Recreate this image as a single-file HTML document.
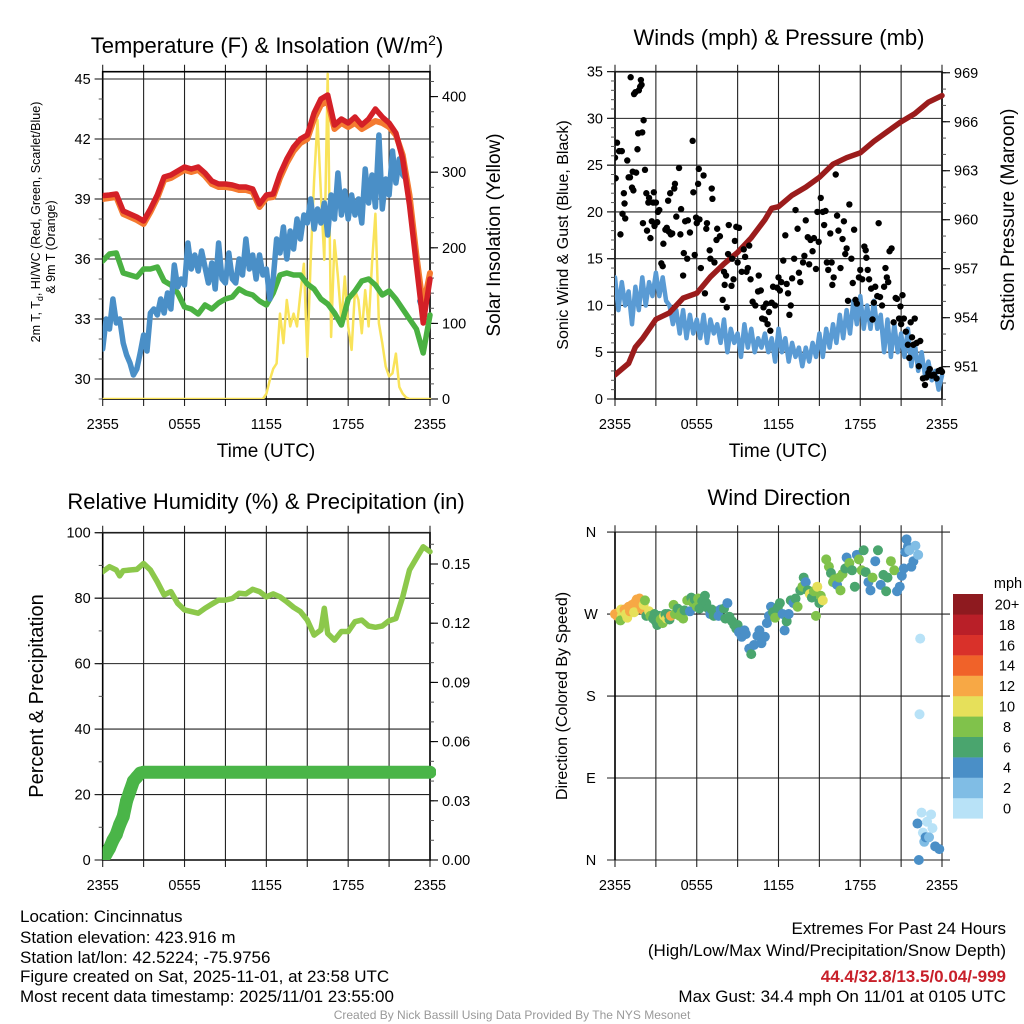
<!DOCTYPE html>
<html><head><meta charset="utf-8"><style>
html,body{margin:0;padding:0;background:#fff;}
svg{display:block;font-family:"Liberation Sans",sans-serif;}
</style></head><body>
<svg id="root" width="1024" height="1024" viewBox="0 0 1024 1024" xmlns="http://www.w3.org/2000/svg">
<rect x="0" y="0" width="1024" height="1024" fill="#fff"/>
<text x="267" y="53" font-size="22" text-anchor="middle">Temperature (F) &amp; Insolation (W/m<tspan dy="-8" font-size="14">2</tspan><tspan dy="8">)</tspan></text>
<text x="779" y="45" font-size="22" text-anchor="middle">Winds (mph) &amp; Pressure (mb)</text>
<text x="266" y="509" font-size="22" text-anchor="middle">Relative Humidity (%) &amp; Precipitation (in)</text>
<text x="779" y="505" font-size="22" text-anchor="middle">Wind Direction</text>
<text transform="translate(40,222) rotate(-90)" font-size="12.5" text-anchor="middle">2m T, T<tspan font-size="9" dy="3">d</tspan><tspan dy="-3">, HI/WC (Red, Green, Scarlet/Blue)</tspan></text>
<text transform="translate(55,247) rotate(-90)" font-size="12.5" text-anchor="middle">&amp; 9m T (Orange)</text>
<text transform="translate(500,235) rotate(-90)" font-size="19" text-anchor="middle">Solar Insolation (Yellow)</text>
<text transform="translate(568,235) rotate(-90)" font-size="16" text-anchor="middle">Sonic Wind &amp; Gust (Blue, Black)</text>
<text transform="translate(1014,220) rotate(-90)" font-size="19" text-anchor="middle">Station Pressure (Maroon)</text>
<text transform="translate(43,696) rotate(-90)" font-size="20" text-anchor="middle">Percent &amp; Precipitation</text>
<text transform="translate(567,696) rotate(-90)" font-size="16" text-anchor="middle">Direction (Colored By Speed)</text>
<text x="266" y="457" font-size="19" text-anchor="middle">Time (UTC)</text>
<text x="778" y="457" font-size="19" text-anchor="middle">Time (UTC)</text>
<g font-size="17">
<text x="20" y="922">Location: Cincinnatus</text>
<text x="20" y="943">Station elevation: 423.916 m</text>
<text x="20" y="963">Station lat/lon: 42.5224; -75.9756</text>
<text x="20" y="982">Figure created on Sat, 2025-11-01, at 23:58 UTC</text>
<text x="20" y="1002">Most recent data timestamp: 2025/11/01 23:55:00</text>
</g>
<g font-size="17" text-anchor="end">
<text x="1006" y="934">Extremes For Past 24 Hours</text>
<text x="1006" y="956">(High/Low/Max Wind/Precipitation/Snow Depth)</text>
<text x="1006" y="982" fill="#c8202a" font-weight="bold">44.4/32.8/13.5/0.04/-999</text>
<text x="1006" y="1002">Max Gust: 34.4 mph On 11/01 at 0105 UTC</text>
</g>
<text x="512" y="1019" font-size="12" fill="#999" text-anchor="middle">Created By Nick Bassill Using Data Provided By The NYS Mesonet</text>
</svg>
<script>
const NS='http://www.w3.org/2000/svg';
const root=document.getElementById('root');
function mk(tag,at,parent){const e=document.createElementNS(NS,tag);for(const k in at)e.setAttribute(k,at[k]);(parent||root).appendChild(e);return e;}

// ---------------- DATA ----------------
const halfHours=[0,0.5,1,1.5,2,2.5,3,3.5,4,4.5,5,5.5,6,6.5,7,7.5,8,8.5,9,9.5,10,10.5,11,11.5,12,12.5,13,13.5,14,14.5,15,15.5,16,16.5,17,17.5,18,18.5,19,19.5,20,20.5,21,21.5,22,22.5,23,23.5,24];
const tempRed=[39.17,39.2,39.25,38.4,38.25,38.1,37.9,38.5,39.2,40.1,40.2,40.4,40.6,40.5,40.6,40.3,39.9,39.75,39.75,39.7,39.6,39.6,39.5,38.75,39.2,39.25,40.25,41.0,41.6,42.0,42.2,43.3,44.0,44.2,42.7,43.0,42.8,43.1,42.7,43.0,43.5,43.1,42.8,42.3,41.0,38.7,35.7,32.8,35.0];
const temp9m=[39.0,39.05,39.1,38.25,38.1,37.95,37.75,38.35,39.05,39.95,40.05,40.25,40.45,40.35,40.45,40.15,39.75,39.6,39.6,39.55,39.45,39.45,39.35,38.6,39.05,39.1,40.05,40.8,41.4,41.8,42.0,43.0,43.7,43.9,42.5,42.8,42.6,42.8,42.5,42.7,42.9,42.8,42.6,42.2,41.2,39.2,36.2,33.6,35.3];
const dewGreen=[35.9,36.25,36.3,35.3,35.2,35.1,35.5,35.5,35.6,34.9,34.7,34.3,33.6,33.5,33.25,33.7,33.5,33.8,34.0,34.1,34.5,34.3,34.2,33.9,33.7,34.3,35.2,35.3,35.2,35.2,34.75,34.5,34.0,33.75,33.3,32.7,34.0,34.4,34.9,35.0,34.7,34.2,34.4,34.0,33.5,33.0,32.5,31.3,33.2];
const quarterHours=[];for(let i=0;i<=96;i++)quarterHours.push(i/4);
const chillBlue=[31.5,33.0,32.5,34.0,32.8,33.0,31.8,31.2,30.8,30.2,30.5,31.3,32.2,31.4,33.3,33.5,33.2,34.0,33.3,34.3,33.5,35.7,34.6,35.0,34.7,36.8,35.5,36.2,35.4,36.4,35.6,34.8,35.8,34.5,36.8,35.0,34.8,36.3,35.0,34.8,36.0,35.2,37.0,35.5,36.2,35.0,36.2,35.2,35.5,34.0,35.0,37.0,36.3,37.6,36.0,37.4,36.5,38.0,37.0,38.2,37.8,39.0,37.5,38.5,37.8,38.8,37.2,39.2,38.0,40.3,38.2,39.4,38.0,39.2,38.2,39.0,37.8,40.5,38.8,40.2,38.6,42.2,38.5,40.0,39.2,41.4,39.8,41.0,40.2,40.0,null,null,null,33.9,33.4,null,null];
const solar=[0,0,0,0,0,0,0,0,0,0,0,0,0,0,0,0,0,0,0,0,0,0,0,0,0,0,0,0,0,0,0,0,0,0,0,0,0,0,0,0,0,0,0,0,0,0,0,0,7,25,40,47,113,74,131,96,113,96,140,179,56,184,289,369,272,184,430,82,210,162,103,162,96,65,144,131,87,144,96,179,245,100,74,43,30,34,60,16,7,2,0,0,0,0,0,0,0];
const pressHours=[0,1,1.5,2,3,4,5,6,7,8,9,10,11,11.5,12,13,14,15,16,17,18,19,20,21,22,23,24];
const pressure=[950.5,951.2,952.2,952.7,953.9,954.3,955.2,955.5,956.5,957.3,958.0,958.9,960.0,960.7,960.8,961.5,962.0,962.6,963.4,963.8,964.1,964.8,965.4,966.0,966.5,967.2,967.6];
const windSpeed=[13,9.5,12.5,10,11.5,8,12,9.5,13,10,12.5,11,13.5,11,13,10.5,10,8,9.5,7,9.5,6.5,9,7,8.5,6.5,9,6,8.5,7,8,6,8.5,5,7.5,6,7,4.5,8,5.5,7.5,5,6.5,5.5,7,5,6.5,4,7.5,5,6.5,4,6,4.5,5.5,3.5,5.5,4,6,4.5,7,4.5,7.5,5.5,8,6,9,6.5,9.5,7,10.5,8,11,7.5,10,7.5,10.5,7.5,9,5,8.5,4.5,8,5,7,4.5,7.5,3.5,6,3,5,2.5,4,2,3,1,2.5];
const gustHours=[0,0.05,0.15,0.3,0.5,0.4,0.55,0.65,0.7,0.75,0.9,1.0,1.1,1.15,1.25,1.3,1.35,1.4,1.5,1.55,1.65,1.7,1.75,1.85,1.9,1.95,2.0,2.05,2.1,2.2,2.3,2.35,2.45,2.5,2.6,2.7,2.8,2.85,2.9,3.0,3.1,3.15,3.25,3.4,3.5,3.55,3.7,3.8,3.9,3.95,4.05,4.1,4.2,4.35,4.4,4.5,4.7,4.8,4.85,5.0,5.05,5.15,5.3,5.35,5.5,6.15,5.7,5.75,5.85,5.95,6.0,6.1,6.2,6.3,6.5,6.6,6.7,6.75,6.95,7.0,7.1,7.15,7.3,7.45,7.5,7.7,7.9,8.0,8.05,8.15,8.2,8.3,8.35,8.55,8.6,8.7,8.8,8.9,9.0,9.1,9.3,9.45,9.55,9.65,9.75,9.85,9.95,10.1,10.3,10.5,10.55,10.7,10.8,10.9,11.0,11.1,11.2,11.3,11.4,11.5,11.6,11.75,11.9,12.0,12.1,12.2,12.35,12.5,12.6,12.7,12.8,12.9,13.0,13.15,13.25,13.4,13.5,13.6,13.8,13.9,14.0,14.15,14.25,14.35,14.5,14.6,14.75,14.85,14.95,15.1,15.25,15.35,15.45,15.55,15.65,15.8,15.9,15.95,16.05,16.2,16.3,16.4,16.55,16.7,16.8,16.9,17.0,17.1,17.2,17.35,17.45,17.55,17.65,17.75,17.9,18.0,18.15,18.3,18.4,18.45,18.55,18.65,18.8,18.9,19.0,19.1,19.25,19.35,19.45,19.6,19.75,19.85,19.95,20.05,20.15,20.3,20.45,20.6,20.7,20.85,20.95,21.0,21.1,21.2,21.35,21.5,21.6,21.7,21.8,21.9,22.0,22.15,22.3,22.4,22.6,22.75,22.85,23.0,23.1,23.25,23.4,23.6,23.75,23.9,24.0];
const gustSpeed=[25.8,23.6,27.4,26.5,26.5,17.6,19.8,22,20.9,19.3,25.5,23.7,23.7,34.4,22.6,24.3,22.3,32.6,32.8,24.2,26.7,28.4,33,33.4,34.1,33.6,28.5,18.8,29.8,24.5,22,18,21,21.5,17.2,19,21,22.1,18.5,21,18.9,20,20.2,14.5,14.2,16.6,18.1,18.3,21.2,17.9,22,17.6,17.7,22.5,23,19.5,24.7,17.6,20.3,13.2,15.6,19,15,19.1,17.8,24.6,27.6,22.1,15.4,19.4,18.8,23,19.2,14,23.9,11.3,18.2,18.8,15.9,15,22.5,21.4,14.6,17,18.2,17.4,10.6,13.6,12.2,13.2,9.8,15.5,18.6,12.1,15,12.8,16.9,18.4,14.6,18.3,13.6,16,15.2,13.6,14,16.4,12.8,10.4,10,11.5,13.2,11.6,8.6,9.8,8.5,10.2,8,9.3,7.3,10.3,12,10,11.9,13,11.6,12.5,14.8,17.5,12.3,11.3,9,10,12.9,15,20.2,18.2,13.5,12.5,14.6,15.3,19.1,17.3,14.4,17,15.8,17.2,13.9,20,16.8,21.5,20,18.6,20.1,14.6,13.8,17.7,14.6,12.2,13,24,19.6,18,14,17.1,19,15.5,16.1,10.5,20.8,15,12.4,18.1,10.6,10.2,13,13.8,12.8,16.3,15.9,15.1,13.8,12.8,11.8,8.5,10.3,12,11,18.8,10.9,10,12,14,13,12.5,15.8,16.1,8.2,10.8,10.7,8.6,9.9,8,11.1,8.6,7.2,5.8,4.4,8.2,6.6,5.8,8.6,6,3.5,6.2,2.2,1.5,2.3,2.8,3.2,2.5,2.6,2.2,3,3.1,2.9];
const rhHours=[0,0.5,1,1.25,1.5,2,2.5,3,3.5,4,4.5,5,5.5,6,6.5,7,7.5,8,8.5,9,9.5,10,10.5,11,11.5,12,12.5,13,13.5,14,14.5,15,15.5,16,16.25,16.5,17,17.5,18,18.5,19,19.5,20,20.5,21,21.5,22,22.5,23,23.5,24];
const rhValues=[88.1,89.6,88.6,86.8,88.4,88.6,88.8,90.6,88.6,85.0,81.0,82.0,78.4,76.4,75.9,75.4,76.9,78.2,79.4,79.4,79.9,81.5,81.3,82.7,82.0,80.4,81.3,80.4,78.9,77.2,75.9,73.3,68.7,70.3,76.9,69.2,67.2,69.8,69.8,72.8,73.3,71.5,71.1,71.5,73.1,73.8,80.4,88.6,92.2,95.7,94.2];
const precipHours=[0,0.25,0.5,0.75,1.0,1.25,1.5,1.75,2.0,2.25,2.5,2.75,3.0,24];
const precipValues=[0,0.003,0.006,0.010,0.013,0.018,0.022,0.030,0.035,0.040,0.042,0.044,0.0445,0.0445];
const dirHours=[0,0.15,0.3,0.45,0.5,0.4,0.7,0.8,0.9,1.0,1.1,1.25,1.4,1.5,1.6,1.7,1.8,1.9,2.0,2.1,2.2,2.3,2.5,2.6,2.8,2.9,3.0,3.1,3.25,3.35,3.5,3.6,3.7,3.8,3.9,4.0,4.1,4.3,4.4,4.6,4.75,4.9,5.0,5.1,5.3,5.5,5.6,5.7,5.85,6.0,6.1,6.2,6.4,6.6,6.7,6.85,7.0,7.1,7.25,7.5,7.6,7.75,8.0,8.1,8.25,8.4,8.6,8.75,8.9,9.0,9.1,9.3,9.5,9.6,9.85,10.0,10.2,10.45,10.6,10.75,11.0,11.15,11.3,11.45,11.6,11.75,11.95,12.1,12.3,12.45,12.6,12.75,12.9,13.1,13.25,13.4,13.6,13.75,13.85,14.0,14.15,14.3,14.45,14.6,14.75,14.85,15.0,15.1,15.25,15.5,15.7,15.85,16.0,16.1,16.3,16.45,16.55,16.7,16.9,17.0,17.2,17.4,17.6,17.75,17.9,18.1,18.25,18.4,18.6,18.75,18.9,19.1,19.3,19.5,19.7,19.9,20.0,20.25,20.5,20.7,20.9,21.05,21.2,21.3,21.4,21.5,21.6,21.75,21.9,22.05,22.25,22.4,22.35,22.3,22.2,22.5,22.6,22.7,22.8,22.9,23.05,23.2,23.3,23.5,23.8];
const dirDegrees=[270,268,272,275,268,263,275,270,266,278,273,280,272,283,286,282,287,279,275,280,285,268,273,268,265,270,262,258,268,264,260,268,270,265,270,264,268,280,270,276,268,272,265,274,285,273,288,283,286,278,287,276,284,290,282,276,270,275,268,273,268,275,276,265,282,267,262,258,254,258,250,245,252,248,232,226,236,246,252,238,245,260,268,278,272,266,277,282,270,252,262,270,285,282,287,278,296,300,310,305,296,292,288,295,268,300,282,290,285,330,322,315,305,308,302,310,296,314,320,332,326,318,300,335,330,318,340,316,305,296,310,328,340,302,313,295,310,328,318,295,300,312,320,338,352,344,340,322,328,345,335,243,160,0,40,52,30,20,25,42,25,50,35,15,12];
const dirSpeeds=[12,12,12,10,10,8,12,10,10,12,12,12,10,12,12,12,12,12,12,10,8,6,10,8,6,6,6,6,6,8,8,10,6,10,6,6,12,8,8,6,8,8,8,6,8,4,6,8,6,8,8,6,6,6,6,6,4,6,6,6,4,4,6,6,4,6,6,6,6,6,4,4,4,4,4,6,4,4,4,4,4,4,4,4,6,8,6,6,4,4,6,4,6,4,6,8,6,8,6,4,6,10,6,8,8,10,6,8,10,8,8,6,8,8,4,8,8,8,6,4,8,6,6,4,8,8,6,6,4,4,8,4,6,4,6,6,6,8,8,4,4,4,4,4,4,4,2,4,4,2,2,0,0,4,4,0,0,2,4,0,2,0,0,4,4];
const colorbarLabels=['0','2','4','6','8','10','12','14','16','18','20+'];
const colorbarColors=['#b8e2f7','#80bde5','#4a8fc7','#4aa56e','#80c24b','#e6e05a','#f7a845','#f06229','#d9312a','#b91f28','#8e1a1f'];
const timeTickLabels=['2355','0555','1155','1755','2355'];

// ---------------- AXES ----------------
function xs(p,t){return p.x0+(p.x1-p.x0)*t/24;}
const P1={x0:102.7,x1:430,top:71.7,bot:399,yl:v=>399-(v-29)*20,yr:v=>399-v*0.756};
const P2={x0:615,x1:942,top:71.7,bot:399,yl:v=>399-v*9.354,yr:v=>366.7-(v-951)*16.33};
const P3={x0:102.7,x1:430,top:532.7,bot:860,yl:v=>860-v*3.273,yr:v=>860-v*1973.3};
const P4={x0:615,x1:942,top:532.3,bot:860,yl:v=>860-v*0.911};

function frame(p,name,lab){
  const g=mk('g',{});
  
  
  for(let i=0;i<=8;i++){
    const x=xs(p,i*3);
    const v=mk('line',{x1:x,y1:p.top-7,x2:x,y2:p.bot+7,stroke:'#222','stroke-width':1.1},g);
    
    
  }
  for(let i=0;i<5;i++){
    const t=mk('text',{x:xs(p,i*6),y:lab,'font-size':14.5,'text-anchor':'middle'},g);
    t.textContent=timeTickLabels[i];
    
    
  }
  const b=mk('rect',{x:p.x0,y:p.top,width:p.x1-p.x0,height:p.bot-p.top,fill:'none',stroke:'#000','stroke-width':1.6},g);
  
  
  return g;
}
function yAxis(p,side,vals,minors,fn,fmt,grid,g){
  const ax=side==='l'?p.x0:p.x1, d=side==='l'?-1:1;
  minors.forEach(v=>{
    const y=fn(v);
    const m=mk('line',{x1:ax,y1:y,x2:ax+d*4,y2:y,stroke:'#555','stroke-width':1},g);
    
    
  });
  vals.forEach(v=>{
    const y=fn(v);
    const t=mk('line',{x1:ax,y1:y,x2:ax+d*8,y2:y,stroke:'#000','stroke-width':1.1},g);
    
    
    if(grid){
      const gl=mk('line',{x1:p.x0-8,y1:y,x2:p.x1,y2:y,stroke:'#222','stroke-width':1.1},g);
      
      
    }
    const tx=mk('text',{x:ax+d*12,y:y+5,'font-size':14.5,'text-anchor':side==='l'?'end':'start'},g);
    tx.textContent=fmt(v);
    
    
  });
}
function range(a,b,s){const r=[];for(let v=a;v<=b+1e-9;v+=s)r.push(+v.toFixed(4));return r;}
function path(p,xsArr,ys,fn,stroke,w,name,g){
  let d='',pen=false;
  for(let i=0;i<xsArr.length;i++){
    if(ys[i]===null){pen=false;continue;}
    d+=(pen?'L':'M')+xs(p,xsArr[i]).toFixed(1)+','+fn(ys[i]).toFixed(1);pen=true;
  }
  const e=mk('path',{d:d,fill:'none',stroke:stroke,'stroke-width':w,'stroke-linejoin':'round','stroke-linecap':'round'},g);
  
  
}
function clip(p,id){
  const c=mk('clipPath',{id:id});
  mk('rect',{x:p.x0,y:p.top-8,width:p.x1-p.x0+6,height:p.bot-p.top+8},c);
  const g=mk('g',{'clip-path':'url(#'+id+')'});
  return g;
}

// Panel 1
let g1=frame(P1,'temperature',429);
yAxis(P1,'l',range(30,45,3),range(29,45,1),P1.yl,v=>v,true,g1);
yAxis(P1,'r',range(0,400,100),range(0,420,20),P1.yr,v=>v,false,g1);
let s1=clip(P1,'c1');


path(P1,quarterHours,solar,P1.yr,'#f9e35a',2.5,'solar-line',s1);
path(P1,halfHours,dewGreen,P1.yl,'#4ab142',5.5,'dewpoint-line',s1);
path(P1,quarterHours,chillBlue,P1.yl,'#4a8fc7',5.5,'windchill-line',s1);
path(P1,halfHours,temp9m,P1.yl,'#f47a30',6,'temp-9m-line',s1);
path(P1,halfHours,tempRed,P1.yl,'#d42027',5.5,'temp-2m-line',s1);

// Panel 2
let g2=frame(P2,'wind',429);
yAxis(P2,'l',range(0,35,5),range(0,35,1),P2.yl,v=>v,true,g2);
yAxis(P2,'r',range(951,969,3),range(949,969,1),P2.yr,v=>v,false,g2);
let s2=clip(P2,'c2');


path(P2,quarterHours,windSpeed,P2.yl,'#5a9bd4',4.5,'wind-speed-line',s2);
path(P2,pressHours,pressure,P2.yr,'#9b1c1c',5.5,'pressure-line',s2);
for(let i=0;i<gustHours.length;i++){
  const c=mk('circle',{cx:xs(P2,gustHours[i]),cy:P2.yl(gustSpeed[i]),r:3.2,fill:'#000'},s2);
  
  
}

// Panel 3
let g3=frame(P3,'humidity',890);
yAxis(P3,'l',range(0,100,20),range(0,100,10),P3.yl,v=>v,true,g3);
yAxis(P3,'r',range(0,0.15,0.03),range(0,0.165,0.01),P3.yr,v=>v.toFixed(2),false,g3);
let s3=clip(P3,'c3');


path(P3,rhHours,rhValues,P3.yl,'#8cc84b',5.5,'rh-line',s3);
path(P3,precipHours,precipValues,P3.yr,'#4ab548',13,'precip-line',s3);
for(let i=0;i<13;i++){
  const c=mk('circle',{cx:xs(P3,precipHours[i]),cy:P3.yr(precipValues[i]),r:6.5,fill:'#4ab548'},s3);
  
  
}

// Panel 4
let g4=mk('g',{});


for(let i=0;i<=8;i++){
  const x=xs(P4,i*3);
  const v=mk('line',{x1:x,y1:P4.top-7,x2:x,y2:P4.bot+7,stroke:'#222','stroke-width':1.1},g4);
  
  
}
for(let i=0;i<5;i++){
  const t=mk('text',{x:xs(P4,i*6),y:890,'font-size':14.5,'text-anchor':'middle'},g4);
  t.textContent=timeTickLabels[i];
  
  
}
const dirLabels=['N','E','S','W','N'];
for(let i=0;i<5;i++){
  const y=P4.yl(i*90);
  const l=mk('line',{x1:607,y1:y,x2:950,y2:y,stroke:'#222','stroke-width':1.1},g4);
  
  
  const t=mk('text',{x:591,y:y+5,'font-size':14.5,'text-anchor':'middle'},g4);
  t.textContent=dirLabels[i];
  
  
}
const lax=mk('line',{x1:P4.x0,y1:P4.top,x2:P4.x0,y2:P4.bot,stroke:'#000','stroke-width':1.6},g4);


function spdColor(s){let i=Math.round(s/2);if(i>10)i=10;if(i<0)i=0;return colorbarColors[i];}
for(let i=0;i<dirHours.length;i++){
  const c=mk('circle',{cx:xs(P4,dirHours[i]),cy:P4.yl(dirDegrees[i]),r:5,fill:spdColor(dirSpeeds[i])},g4);
  
  
}
// colorbar
const cb=mk('g',{});


const cbt=mk('text',{x:1008,y:588,'font-size':14.5,'text-anchor':'middle'},cb);
cbt.textContent='mph';


for(let i=0;i<11;i++){
  const y=594+(10-i)*20.4;
  const r=mk('rect',{x:953,y:y,width:30,height:20.6,fill:colorbarColors[i]},cb);
  
  
  const t=mk('text',{x:1007,y:y+15.5,'font-size':14.5,'text-anchor':'middle'},cb);
  t.textContent=colorbarLabels[i];
  
  
}
</script>
</body></html>
